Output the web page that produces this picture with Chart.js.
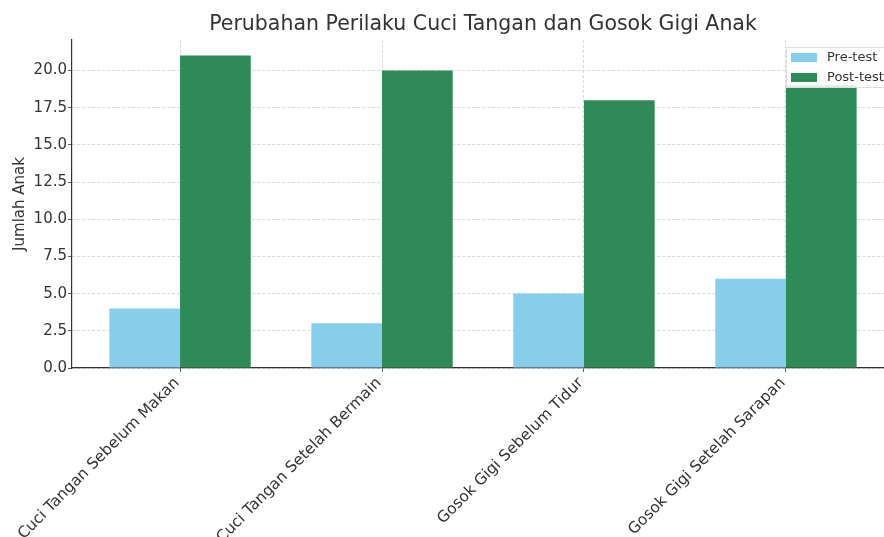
<!DOCTYPE html>
<html>
<head>
<meta charset="utf-8">
<script src="https://cdn.jsdelivr.net/npm/chart.js@4.4.0/dist/chart.umd.min.js"></script>
<style>
  html, body { margin: 0; padding: 0; background: #fff; overflow: hidden; }
  #wrap { width: 884px; height: 537px; overflow: hidden; position: relative; }
  #wrap canvas { position: absolute; left: 0; top: 0; }
</style>
</head>
<body>
<div id="wrap">
  <canvas id="grafik" width="900" height="537"></canvas>
</div>
<script>
// data
var kategori = ['Cuci Tangan Sebelum Makan', 'Cuci Tangan Setelah Bermain', 'Gosok Gigi Sebelum Tidur', 'Gosok Gigi Setelah Sarapan'];
var preTest = [4, 3, 5, 6];
var postTest = [21, 20, 18, 19];
var yTicks = [0, 2.5, 5, 7.5, 10, 12.5, 15, 17.5, 20];

var judul = 'Perubahan Perilaku Cuci Tangan dan Gosok Gigi Anak';
var fontName = "'DejaVu Sans', sans-serif";
var warnaGrid = 'rgba(190,190,190,0.75)';

function toPoints(arr) {
    return arr.map(function (v, i) { return { x: i, y: v }; });
}

// title + legend drawn by hand (matplotlib style)
const judulPlugin = {
    id: 'judulPlugin',
    afterDraw(chart) {
        var ctx = chart.ctx;
        var area = chart.chartArea;
        ctx.save();
        ctx.fillStyle = '#333333';
        ctx.font = '20.5px ' + fontName;
        ctx.textAlign = 'center';
        ctx.textBaseline = 'middle';
        ctx.fillText(judul, (area.left + area.right) / 2, 25);

        // legend
        var lx = area.right - 108, ly = 47;
        ctx.fillStyle = 'rgba(255,255,255,0.85)';
        ctx.fillRect(lx, ly, 104, 40);
        ctx.strokeStyle = '#dddddd';
        ctx.lineWidth = 1;
        ctx.strokeRect(lx + 0.5, ly + 0.5, 104, 40);
        var items = chart.data.datasets;
        ctx.font = '13px ' + fontName;
        ctx.textAlign = 'left';
        for (var i = 0; i < items.length; i++) {
            var yy = ly + 10 + i * 20;
            ctx.fillStyle = items[i].backgroundColor;
            ctx.fillRect(lx + 5, yy - 4, 26, 9);
            ctx.fillStyle = '#333333';
            ctx.fillText(items[i].label, lx + 41, yy + 1);
        }
        ctx.restore();
    }
};

new Chart('grafik', {
    type: 'bar',
    data: {
        datasets: [{
            label: 'Pre-test',
            data: toPoints(preTest),
            backgroundColor: '#87CEEB',
            borderWidth: 0
        }, {
            label: 'Post-test',
            data: toPoints(postTest),
            backgroundColor: '#2E8B57',
            borderWidth: 0
        }]
    },
    options: {
        responsive: false,
        animation: false,
        layout: { padding: { left: 0, right: 6, top: 40, bottom: 0 } },
        datasets: { bar: { categoryPercentage: 0.7, barPercentage: 1.0 } },
        plugins: {
            legend: { display: false },
            title: { display: false },
            tooltip: { enabled: false }
        },
        scales: {
            x: {
                type: 'linear',
                z: 1,
                min: -0.535,
                max: 3.535,
                offset: false,
                afterBuildTicks: function (axis) {
                    axis.ticks = kategori.map(function (k, i) { return { value: i }; });
                },
                afterFit: function (axis) { axis.height = 169; },
                ticks: {
                    autoSkip: false,
                    minRotation: 45,
                    maxRotation: 45,
                    padding: 2,
                    labelOffset: -3,
                    color: '#333333',
                    font: { family: fontName, size: 15.4 },
                    callback: function (v) { return kategori[v]; }
                },
                grid: {
                    offset: false,
                    color: warnaGrid,
                    lineWidth: 0.8,
                    tickLength: 4,
                    tickColor: '#333333',
                    tickBorderDash: []
                },
                border: { color: '#333333', width: 1.2, dash: [3, 2] }
            },
            y: {
                z: 1,
                min: 0,
                max: 22.05,
                afterBuildTicks: function (axis) {
                    axis.ticks = yTicks.map(function (v) { return { value: v }; });
                },
                afterFit: function (axis) { axis.width = 72; },
                ticks: {
                    padding: 1,
                    color: '#333333',
                    font: { family: fontName, size: 15 },
                    callback: function (v) { return Number(v).toFixed(1); }
                },
                grid: {
                    color: warnaGrid,
                    lineWidth: 0.8,
                    tickLength: 4,
                    tickColor: '#333333',
                    tickBorderDash: []
                },
                border: { color: '#333333', width: 1.2, dash: [3, 2] },
                title: {
                    display: true,
                    text: 'Jumlah Anak',
                    color: '#333333',
                    font: { family: fontName, size: 15 },
                    padding: { top: 11, bottom: 0 }
                }
            }
        }
    },
    plugins: [judulPlugin]
});
</script>
</body>
</html>
